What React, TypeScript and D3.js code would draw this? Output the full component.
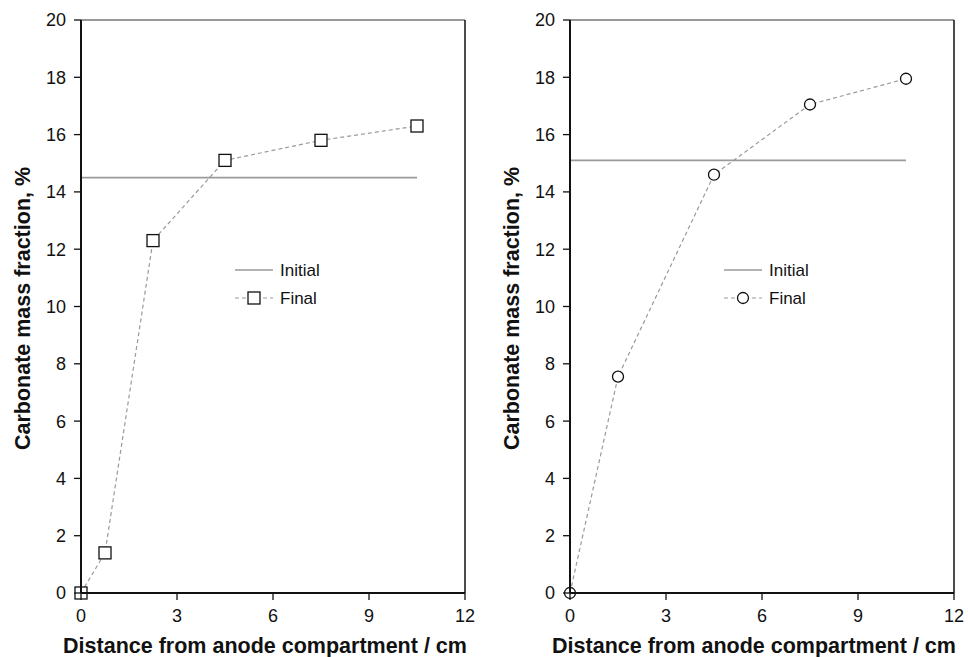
import React from "react";
import * as d3 from "d3";

const xTicks = [0, 3, 6, 9, 12];
const yTicks = [0, 2, 4, 6, 8, 10, 12, 14, 16, 18, 20];

const leftX = [0, 0.75, 2.25, 4.5, 7.5, 10.5];
const leftY = [0, 1.4, 12.3, 15.1, 15.8, 16.3];
const leftInitial = 14.5;

const rightX = [0, 1.5, 4.5, 7.5, 10.5];
const rightY = [0, 7.55, 14.6, 17.05, 17.95];
const rightInitial = 15.1;

const initialExtent = [0, 10.5];

const xTitle = "Distance from anode compartment / cm";
const yTitle = "Carbonate mass fraction, %";
const legendLabels = ["Initial", "Final"];

const FONT = "Liberation Sans, Arial, Helvetica, sans-serif";

type PanelProps = {
  left: number;
  xs: number[];
  ys: number[];
  initial: number;
  marker: "square" | "circle";
  legendX: number;
};

function Panel({ left, xs, ys, initial, marker, legendX }: PanelProps) {
  const top = 20;
  const bottom = 593;
  const width = 384;
  const x = d3.scaleLinear().domain([0, 12]).range([left, left + width]);
  const y = d3.scaleLinear().domain([0, 20]).range([bottom, top]);
  const pts: [number, number][] = xs.map((v, i) => [x(v), y(ys[i])]);
  const line = d3.line()(pts) || "";
  const grey = "#9a9a9a";
  const drawMarker = (cx: number, cy: number, key: string) =>
    marker === "square" ? (
      <rect key={key} x={cx - 6} y={cy - 6} width={12} height={12} fill="white" stroke="#111" strokeWidth={1.3} />
    ) : (
      <circle key={key} cx={cx} cy={cy} r={5.5} fill="white" stroke="#111" strokeWidth={1.3} />
    );
  const ly1 = 270;
  const ly2 = 298;
  return (
    <g>
      {/* frame */}
      <line x1={left} x2={left + width} y1={top} y2={top} stroke="#333" strokeWidth={1.2} />
      <line x1={left + width} x2={left + width} y1={top} y2={bottom} stroke="#111" strokeWidth={1.5} />
      {/* initial line */}
      <line x1={x(initialExtent[0])} x2={x(initialExtent[1])} y1={y(initial)} y2={y(initial)} stroke={grey} strokeWidth={1.6} />
      {/* final dashed */}
      <path d={line} fill="none" stroke={grey} strokeWidth={1.2} strokeDasharray="4,3" />
      {pts.map((p, i) => drawMarker(p[0], p[1], "m" + i))}
      {/* axes */}
      <line x1={left} x2={left} y1={top} y2={bottom} stroke="#111" strokeWidth={2} />
      <line x1={left} x2={left + width} y1={bottom} y2={bottom} stroke="#111" strokeWidth={2} />
      {yTicks.map((t) => (
        <g key={"y" + t}>
          <line x1={left - 7} x2={left} y1={y(t)} y2={y(t)} stroke="#111" strokeWidth={1.3} />
          <text x={left - 15} y={y(t)} dy="0.36em" textAnchor="end" fontSize={18} fontFamily={FONT} fill="#111">
            {t}
          </text>
        </g>
      ))}
      {xTicks.map((t) => (
        <g key={"x" + t}>
          <line x1={x(t)} x2={x(t)} y1={bottom} y2={bottom + 7} stroke="#111" strokeWidth={1.3} />
          <text x={x(t)} y={bottom + 29} textAnchor="middle" fontSize={18} fontFamily={FONT} fill="#111">
            {t}
          </text>
        </g>
      ))}
      {/* titles */}
      <text
        x={left + width / 2 - 8}
        y={653}
        textAnchor="middle"
        fontSize={21.5}
        fontWeight="bold"
        fontFamily={FONT}
        fill="#111"
      >
        {xTitle}
      </text>
      <text
        transform={`translate(${left - 51},${(top + bottom) / 2 + 2}) rotate(-90)`}
        textAnchor="middle"
        fontSize={21.5}
        fontWeight="bold"
        fontFamily={FONT}
        fill="#111"
      >
        {yTitle}
      </text>
      {/* legend */}
      <line x1={legendX} x2={legendX + 38} y1={ly1} y2={ly1} stroke={grey} strokeWidth={1.6} />
      <text x={legendX + 45} y={ly1} dy="0.36em" fontSize={17} fontFamily={FONT} fill="#111">
        {legendLabels[0]}
      </text>
      <line x1={legendX} x2={legendX + 38} y1={ly2} y2={ly2} stroke={grey} strokeWidth={1.2} strokeDasharray="4,3" />
      {drawMarker(legendX + 19, ly2, "lm")}
      <text x={legendX + 45} y={ly2} dy="0.36em" fontSize={17} fontFamily={FONT} fill="#111">
        {legendLabels[1]}
      </text>
    </g>
  );
}

export default function App() {
  return (
    <svg width={968} height={657} style={{ display: "block", position: "absolute", left: 0, top: 0, background: "white" }}>
      <rect width={968} height={657} fill="white" />
      <Panel left={81} xs={leftX} ys={leftY} initial={leftInitial} marker="square" legendX={235} />
      <Panel left={570} xs={rightX} ys={rightY} initial={rightInitial} marker="circle" legendX={724} />
    </svg>
  );
}
